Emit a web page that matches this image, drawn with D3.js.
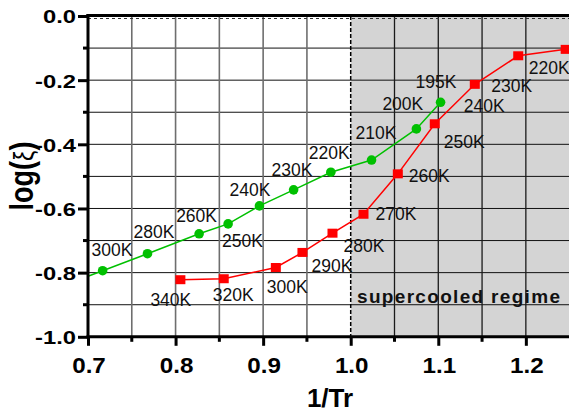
<!DOCTYPE html>
<html>
<head>
<meta charset="utf-8">
<script src="https://cdn.jsdelivr.net/npm/d3@7"></script>
<style>
  html, body { margin: 0; padding: 0; background: #fff; }
  svg { display: block; }
  text { font-family: "Liberation Sans", Arial, sans-serif; }
</style>
</head>
<body>
<svg id="chart" width="569" height="412"></svg>
<script>
// Data: log(ξ) against reduced inverse temperature 1/Tr, two series
const greenTemps = ["300K", "280K", "260K", "250K", "240K", "230K", "220K", "210K", "200K", "195K"];
const greenX = [0.7167, 0.7679, 0.8269, 0.8600, 0.8958, 0.9348, 0.9773, 1.0238, 1.0750, 1.1026];
const greenY = [-0.794, -0.741, -0.679, -0.648, -0.592, -0.542, -0.487, -0.449, -0.352, -0.269];

const redTemps = ["340K", "320K", "300K", "290K", "280K", "270K", "260K", "250K", "240K", "230K", "220K"];
const redX = [0.8055, 0.8550, 0.9145, 0.9449, 0.9792, 1.0146, 1.0538, 1.0960, 1.1417, 1.1913, 1.2455];
const redY = [-0.822, -0.819, -0.784, -0.737, -0.677, -0.618, -0.492, -0.336, -0.213, -0.124, -0.104];

const xTicks = [0.7, 0.8, 0.9, 1.0, 1.1, 1.2];
const yTicks = [0.0, -0.2, -0.4, -0.6, -0.8, -1.0];
const xGrid = [0.75, 0.8, 0.85, 0.9, 0.95, 1.05, 1.1, 1.15, 1.2];
const yGrid = [-0.1, -0.2, -0.3, -0.4, -0.5, -0.6, -0.7, -0.8, -0.9];
const regimeStart = 1.0;
const regimeLabel = "supercooled regime";

// Label placement relative to each marker: [dx, dy] to the text's left baseline
const greenLabelOffsets = [[-11, -15], [-14, -16], [-23, -12], [-6, 23], [-30, -10],
                           [-22, -14], [-22, -13], [-16, -21], [-34, -19], [-25, -14]];
const redLabelOffsets = [[-30, 26], [-11, 22], [-9, 25], [9, 20], [11, 19], [12, 6],
                         [11, 8], [9, 24], [-11, 28], [-27, 36], [-37, 25]];

const svg = d3.select("#chart");
const plotLeft = 88, plotTop = 16, plotBottom = 336.8, plotRight = 569;
const x = d3.scaleLinear().domain([0.7, 1.25]).range([plotLeft, plotLeft + 0.55 * 875.7]);
const y = d3.scaleLinear().domain([-1, 0]).range([plotBottom, plotTop]);

// Widen a text element horizontally by a factor, keeping a given anchor
function stretch(sel, factor, anchor, ax) {
  sel.each(function() {
    const len = this.getComputedTextLength() * factor;
    const x0 = anchor === "end" ? ax - len : anchor === "middle" ? ax - len / 2 : ax;
    d3.select(this)
      .attr("text-anchor", "start")
      .attr("x", x0)
      .attr("textLength", len)
      .attr("lengthAdjust", "spacingAndGlyphs");
  });
}

// Shaded supercooled region
svg.append("rect")
  .attr("x", x(regimeStart)).attr("y", plotTop)
  .attr("width", plotRight - x(regimeStart)).attr("height", plotBottom - plotTop)
  .attr("fill", "#d4d4d4");

// Grid
svg.append("g").selectAll("line").data(yGrid).join("line")
  .attr("x1", plotLeft).attr("x2", plotRight)
  .attr("y1", d => y(d)).attr("y2", d => y(d))
  .attr("stroke", "#111").attr("stroke-width", 1);

svg.append("g").selectAll("line").data(xGrid).join("line")
  .attr("x1", d => x(d)).attr("x2", d => x(d))
  .attr("y1", plotTop).attr("y2", plotBottom)
  .attr("stroke", d => d > regimeStart ? "#1a1a1a" : "#6e6e6e")
  .attr("stroke-width", d => d > regimeStart ? 1.3 : 1.6);

// Dotted line just below the top frame
svg.append("line")
  .attr("x1", plotLeft).attr("x2", plotRight).attr("y1", plotTop + 2.5).attr("y2", plotTop + 2.5)
  .attr("stroke", "#333").attr("stroke-width", 1).attr("stroke-dasharray", "3,3");

// Regime boundary
svg.append("line")
  .attr("x1", x(regimeStart)).attr("x2", x(regimeStart))
  .attr("y1", plotTop).attr("y2", plotBottom)
  .attr("stroke", "#000").attr("stroke-width", 1.5).attr("stroke-dasharray", "4,2");

// Regime label
svg.append("text")
  .attr("x", 357).attr("y", 302.5)
  .attr("font-size", 19).attr("font-weight", "bold").attr("fill", "#111")
  .attr("textLength", 203).attr("lengthAdjust", "spacing")
  .text(regimeLabel);

// Series lines and markers
const line = d3.line().x(d => x(d[0])).y(d => y(d[1]));
const greenPts = greenX.map((v, i) => [v, greenY[i]]);
const redPts = redX.map((v, i) => [v, redY[i]]);

svg.append("path")
  .datum(greenPts)
  .attr("d", line)
  .attr("fill", "none").attr("stroke", "#00c000").attr("stroke-width", 1.5);
// Green line continues to the left frame along its first segment's slope
const g0 = [x(greenX[0]), y(greenY[0])], g1 = [x(greenX[1]), y(greenY[1])];
const gSlope = (g1[1] - g0[1]) / (g1[0] - g0[0]);
svg.append("line")
  .attr("x1", plotLeft).attr("y1", g0[1] - (g0[0] - plotLeft) * gSlope)
  .attr("x2", g0[0]).attr("y2", g0[1])
  .attr("stroke", "#00c000").attr("stroke-width", 1.5);

svg.append("path")
  .datum(redPts)
  .attr("d", line)
  .attr("fill", "none").attr("stroke", "#ff0000").attr("stroke-width", 1.5);

svg.append("g").selectAll("circle").data(greenPts).join("circle")
  .attr("cx", d => x(d[0])).attr("cy", d => y(d[1])).attr("r", 4.8)
  .attr("fill", "#00c000");

svg.append("g").selectAll("rect").data(redPts).join("rect")
  .attr("x", d => x(d[0]) - 5).attr("y", d => y(d[1]) - 4.5)
  .attr("width", 10).attr("height", 9)
  .attr("fill", "#ff0000");

// Temperature labels
function labels(pts, names, offsets) {
  svg.append("g").selectAll("text").data(pts).join("text")
    .attr("x", (d, i) => x(d[0]) + offsets[i][0])
    .attr("y", (d, i) => y(d[1]) + offsets[i][1])
    .attr("font-size", 17.5).attr("fill", "#111")
    .text((d, i) => names[i]);
}
labels(greenPts, greenTemps, greenLabelOffsets);
labels(redPts, redTemps, redLabelOffsets);

// Frame: top border
svg.append("line")
  .attr("x1", plotLeft - 1.5).attr("x2", plotRight).attr("y1", plotTop - 0.5).attr("y2", plotTop - 0.5)
  .attr("stroke", "#000").attr("stroke-width", 3);

// Left axis
const yAxis = d3.axisLeft(y).tickValues(yTicks).tickSize(10).tickPadding(0)
  .tickFormat(d => d3.format(".1f")(d).replace("\u2212", "-"));
const gy = svg.append("g").attr("transform", `translate(${plotLeft},0)`).call(yAxis);
gy.select(".domain").remove();
gy.selectAll(".tick line").attr("stroke", "#000").attr("stroke-width", 3);
gy.selectAll(".tick text")
  .attr("dy", "0.36em")
  .attr("font-size", 19).attr("font-weight", "bold").attr("fill", "#000")
  .call(stretch, 1.25, "end", -12);
svg.append("g").selectAll("line").data(yGrid.filter((d, i) => i % 2 === 0)).join("line")
  .attr("x1", plotLeft - 5).attr("x2", plotLeft).attr("y1", d => y(d)).attr("y2", d => y(d))
  .attr("stroke", "#000").attr("stroke-width", 3);
svg.append("line")
  .attr("x1", plotLeft).attr("x2", plotLeft).attr("y1", plotTop - 2).attr("y2", plotBottom + 1.5)
  .attr("stroke", "#000").attr("stroke-width", 3);

// Bottom axis
const xAxis = d3.axisBottom(x).tickValues(xTicks).tickSize(9).tickPadding(0)
  .tickFormat(d3.format(".1f"));
const gx = svg.append("g").attr("transform", `translate(0,${plotBottom})`).call(xAxis);
gx.select(".domain").remove();
gx.selectAll(".tick line").attr("stroke", "#000").attr("stroke-width", 3);
gx.selectAll(".tick text")
  .attr("y", 36).attr("dy", 0)
  .attr("font-size", 22).attr("font-weight", "bold").attr("fill", "#000")
  .call(stretch, 1.1, "middle", 0.5);
svg.append("g").selectAll("line").data([0.75, 0.85, 0.95, 1.05, 1.15]).join("line")
  .attr("x1", d => x(d)).attr("x2", d => x(d)).attr("y1", plotBottom).attr("y2", plotBottom + 5)
  .attr("stroke", "#000").attr("stroke-width", 3);
svg.append("line")
  .attr("x1", plotLeft - 1.5).attr("x2", plotRight).attr("y1", plotBottom).attr("y2", plotBottom)
  .attr("stroke", "#000").attr("stroke-width", 3);

// Axis titles
svg.append("text")
  .attr("x", 330).attr("y", 407)
  .attr("text-anchor", "middle")
  .attr("font-size", 26).attr("font-weight", "bold").attr("fill", "#000")
  .text("1/Tr");

const yl = svg.append("text")
  .attr("transform", "translate(33,176) rotate(-90) scale(1,1.2)")
  .attr("text-anchor", "middle")
  .attr("font-size", 27).attr("font-weight", "bold").attr("fill", "#000");
yl.append("tspan").text("log(");
yl.append("tspan").attr("font-weight", "normal").attr("font-size", 23).text("ξ");
yl.append("tspan").text(")");
</script>
</body>
</html>
